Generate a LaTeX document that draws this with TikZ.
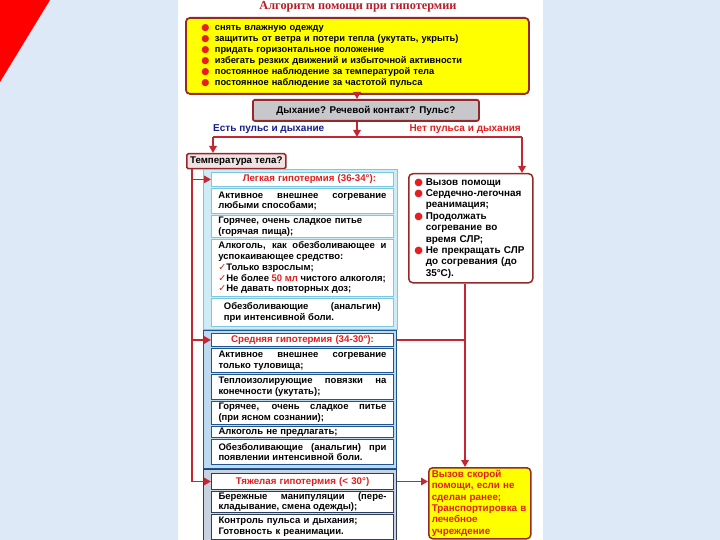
\documentclass[tikz,border=0pt]{standalone}
\usepackage{fontspec}
\setmainfont{Liberation Sans}
\newfontfamily\titlefont{Liberation Serif}
\newfontfamily\dejavu{DejaVu Sans}
\usetikzlibrary{arrows.meta}
\definecolor{bgblue}{RGB}{221,233,246}
\definecolor{trired}{RGB}{255,0,0}
\definecolor{yel}{RGB}{255,255,0}
\definecolor{bord}{RGB}{150,40,40}
\definecolor{lnred}{RGB}{195,40,50}
\definecolor{grayfill}{RGB}{200,200,204}
\definecolor{tempfill}{RGB}{240,226,226}
\definecolor{txtred}{RGB}{225,30,30}
\definecolor{ttlred}{RGB}{185,30,40}
\definecolor{lblblue}{RGB}{20,30,140}
\definecolor{bulred}{RGB}{230,30,30}
\definecolor{chkred}{RGB}{200,40,40}
\definecolor{lframe}{RGB}{205,236,246}
\definecolor{lbord}{RGB}{125,200,225}
\definecolor{mframe}{RGB}{190,218,240}
\definecolor{mbord}{RGB}{30,85,145}
\definecolor{sframe}{RGB}{200,210,225}
\definecolor{sbord}{RGB}{45,62,90}
\newcommand{\blt}[1]{\makebox[#1][l]{\dejavu\color{bulred}●}}
\newcommand{\chk}{{\dejavu\color{chkred}✓}}
\begin{document}
\begin{tikzpicture}[x=1pt,y=-1pt,
  ln/.style={draw=lnred,line width=1.5pt},
  arr/.style={ln,-{Triangle[length=7pt,width=7.5pt]}},
  frame/.style={anchor=north west,inner sep=0pt,line width=1pt},
  rowbase/.style={anchor=north west,fill=white,inner xsep=7pt,inner ysep=0.5pt,
    text width=168pt,align=justify,font=\fontsize{9.5}{10.8}\selectfont\bfseries},
  rowL/.style={rowbase,draw=lbord,line width=0.8pt},
  rowM/.style={rowbase,draw=mbord,line width=1pt},
  rowS/.style={rowbase,draw=sbord,line width=1pt},
  ttl/.style={align=center,text=txtred,font=\fontsize{9.7}{10.8}\selectfont\bfseries}
]
\useasboundingbox (0,0) rectangle (720,540);
\fill[bgblue] (0,0) rectangle (720,540);
\fill[white] (178,0) rectangle (543,540);
\fill[trired] (0,0) -- (50,0) -- (0,82) -- cycle;

% title
\node[font=\titlefont\fontsize{12.3}{13}\selectfont\bfseries,text=ttlred] (title) at (358,7) {Алгоритм помощи при гипотермии};

% top yellow box
\node[anchor=north west,draw=bord,fill=yel,line width=1.8pt,rounded corners=4pt,
  minimum width=343pt,minimum height=76pt,inner xsep=15.5pt,inner ysep=0pt,
  text width=312pt,align=left,font=\fontsize{9.3}{11}\selectfont\bfseries] (topbox) at (185,17)
{\blt{13.5pt}снять влажную одежду\\
 \blt{13.5pt}защитить от ветра и потери тепла (укутать, укрыть)\\
 \blt{13.5pt}придать горизонтальное положение\\
 \blt{13.5pt}избегать резких движений и избыточной активности\\
 \blt{13.5pt}постоянное наблюдение за температурой тела\\
 \blt{13.5pt}постоянное наблюдение за частотой пульса};

% gray question box
\node[anchor=north west,draw=bord,fill=grayfill,line width=1.8pt,rounded corners=2pt,
  minimum width=226pt,minimum height=21pt,inner sep=0pt,
  font=\fontsize{9.8}{11}\selectfont\bfseries] (gray) at (252,99) {Дыхание? Речевой контакт? Пульс?};

% branch labels
\node[anchor=west,inner sep=0pt,text=lblblue,font=\fontsize{10}{11}\selectfont\bfseries] (yes) at (213,129) {Есть пульс и дыхание};
\node[anchor=east,inner sep=0pt,text=txtred,font=\fontsize{10}{11}\selectfont\bfseries] (no) at (521,129) {Нет пульса и дыхания};

% temperature box
\node[anchor=north west,draw=bord,fill=tempfill,line width=1.5pt,rounded corners=1.5pt,
  minimum width=99pt,minimum height=15pt,inner sep=0pt,
  font=\fontsize{9.7}{10}\selectfont\bfseries] (temp) at (186,153) {Температура тела?};

% light hypothermia group
\node[frame,draw=lbord,fill=lframe,minimum width=194pt,minimum height=160pt] (lgroup) at (203,169) {};
\node[rowL,ttl,minimum height=14pt] (lt) at (211,172) {\hspace*{14pt}Легкая гипотермия (36-34°):};
\node[rowL,minimum height=25pt] (l1) at (211,188) {Активное внешнее согревание\linebreak любыми способами;};
\node[rowL,minimum height=22pt,align=left] (l2) at (211,215) {Горячее, очень сладкое питье\\(горячая пища);};
\node[rowL,minimum height=57pt] (l3) at (211,239) {Алкоголь, как обезболивающее и\linebreak успокаивающее средство:\\
 \chk Только взрослым;\\ \chk Не более {\color{txtred}50 мл} чистого алкоголя;\\ \chk Не давать повторных доз;};
\node[rowL,minimum height=28pt,text width=157pt,inner xsep=12.5pt] (l4) at (211,298) {Обезболивающие (анальгин)\linebreak при интенсивной боли.};

% medium hypothermia group
\node[frame,draw=mbord,fill=mframe,minimum width=193pt,minimum height=138pt,line width=1.2pt] (mgroup) at (203,330) {};
\node[rowM,ttl,minimum height=13pt] (mt) at (211,333) {Средняя гипотермия (34-30°):};
\node[rowM,minimum height=24pt] (m1) at (211,348) {Активное внешнее согревание\linebreak только туловища;};
\node[rowM,minimum height=25pt] (m2) at (211,374) {Теплоизолирующие повязки на\linebreak конечности (укутать);};
\node[rowM,minimum height=23pt] (m3) at (211,401) {Горячее, очень сладкое питье\linebreak (при ясном сознании);};
\node[rowM,minimum height=11pt,align=left] (m4) at (211,426) {Алкоголь не предлагать;};
\node[rowM,minimum height=25pt] (m5) at (211,439) {Обезболивающие (анальгин) при\linebreak появлении интенсивной боли.};

% severe hypothermia group
\node[frame,draw=sbord,fill=sframe,minimum width=193pt,minimum height=74pt,line width=1.2pt] (sgroup) at (203,469) {};
\node[rowS,ttl,minimum height=16pt] (st) at (211,473) {Тяжелая гипотермия (< 30°)};
\node[rowS,minimum height=21pt] (s1) at (211,491) {Бережные манипуляции (пере-\linebreak кладывание, смена одежды);};
\node[rowS,minimum height=25pt,align=left] (s2) at (211,514) {Контроль пульса и дыхания;\\Готовность к реанимации.};

% right red box
\node[anchor=north west,draw=bord,fill=white,line width=1.5pt,rounded corners=4pt,
  minimum width=124pt,minimum height=109pt,inner xsep=5.5pt,inner ysep=0pt,
  text width=113pt,align=left,font=\fontsize{9.9}{11.4}\selectfont\bfseries] (redbox) at (408,173)
{\blt{11.5pt}Вызов помощи\\
 \blt{11.5pt}Сердечно-легочная\\ \hspace*{11.5pt}реанимация;\\
 \blt{11.5pt}Продолжать\\ \hspace*{11.5pt}согревание во\\ \hspace*{11.5pt}время СЛР;\\
 \blt{11.5pt}Не прекращать СЛР\\ \hspace*{11.5pt}до согревания (до\\ \hspace*{11.5pt}35°С).};

% bottom yellow box
\node[anchor=north west,draw=bord,fill=yel,line width=1.5pt,rounded corners=4pt,
  minimum width=102pt,minimum height=71pt,inner xsep=3pt,inner ysep=0pt,
  text width=96pt,align=left,text=txtred,font=\fontsize{9.8}{11.3}\selectfont\bfseries] (ybot) at (428,467)
{Вызов скорой\\помощи, если не\\сделан ранее;\\Транспортировка в\\лечебное\\учреждение};

% connector helper coordinates
\coordinate (split) at (357,137);
\coordinate (lc) at (213,137);
\coordinate (rc) at (522,137);
\coordinate (vx) at (192,0);
\coordinate (vr) at (465,0);

% connectors
\draw[arr] (topbox.south -| split) -- (gray.north -| split);
\draw[arr] (gray.south -| split) -- (split);
\draw[ln] (lc) -- (rc);
\draw[arr] (lc) -- (lc |- temp.north);
\draw[arr] (rc) -- (rc |- redbox.north);
\draw[ln] (vx |- temp.south) -- (vx |- st.west);
\draw[arr] (vx |- lt.west) -- (lt.west);
\draw[arr] (vx |- mt.west) -- (mt.west);
\draw[arr] (vx |- st.west) -- (st.west);
\draw[arr] (vr |- redbox.south) -- (vr |- ybot.north);
\draw[ln] (mgroup.east |- mt.east) -- (vr |- mt.east);
\draw[arr] (sgroup.east |- st.east) -- (ybot.west |- st.east);
\end{tikzpicture}
\end{document}
